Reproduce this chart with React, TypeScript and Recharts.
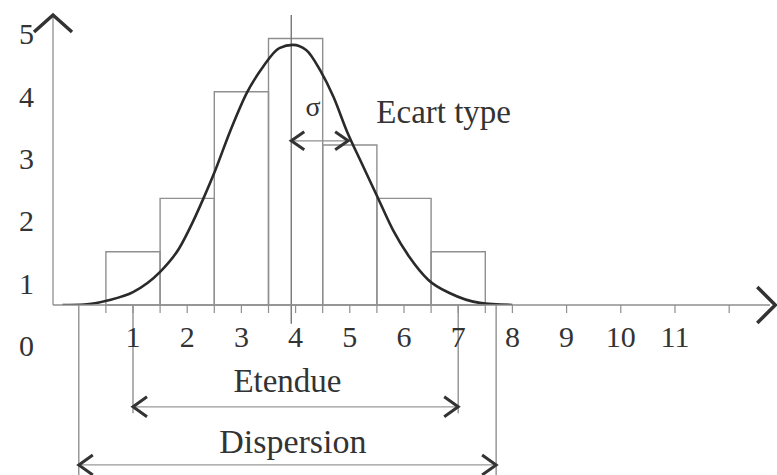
import React from "react";
import {
  ComposedChart,
  Line,
  XAxis,
  YAxis,
  ReferenceArea,
  ReferenceLine,
  ReferenceDot,
} from "recharts";

// ---- data ----
const CURVE_X = [-0.3, 0.1, 0.55, 1.0, 1.5, 1.85, 2.1, 2.3, 2.5, 2.8, 3.1, 3.4, 3.7, 3.95, 4.2, 4.45, 4.7, 4.95, 5.2, 5.5, 5.8, 6.1, 6.45, 6.85, 7.4, 8.0];
const CURVE_Y = [0, 0.01, 0.09, 0.24, 0.62, 1.06, 1.55, 2.0, 2.48, 3.28, 3.98, 4.47, 4.82, 4.88, 4.78, 4.41, 3.9, 3.25, 2.7, 2.05, 1.4, 0.9, 0.47, 0.22, 0.04, 0];

const BIN_LOW = [0.5, 1.5, 2.5, 3.5, 4.5, 5.5, 6.5];
const BIN_HIGH = [1.5, 2.5, 3.5, 4.5, 5.5, 6.5, 7.5];
const BIN_COUNT = [1, 2, 4, 5, 3, 2, 1];

const X_TICKS = [0.5, 1, 1.5, 2, 2.5, 3, 3.5, 4, 4.5, 5, 5.5, 6, 6.5, 7, 7.5, 8, 9, 10, 11, 12];
const X_LABELS = [1, 2, 3, 4, 5, 6, 7, 8, 9, 10, 11];
const Y_TICKS = [1, 2, 3, 4];
const Y_LABELS = [0, 1, 2, 3, 4, 5];

const MEAN = 3.92;
const SIGMA_END = 4.97;
const SIGMA_Y = 3.08;
const ETENDUE = [1, 7];
const DISPERSION = [0, 7.7];

// axis ranges
const X_MIN = -0.476;
const X_MAX = 12.753;
const Y_MAX = 5.44;
const LABEL_DOMAIN = [0.65, 5.3];

// annotation anchor levels (data units)
const ETENDUE_Y = -1.91;
const ETENDUE_LINE_BOTTOM = -2.03;
const ETENDUE_TEXT = { x: 3.85, y: -1.63 };
const DISPERSION_Y = -3.0;
const DISPERSION_LINE_BOTTOM = -3.2;
const DISPERSION_TEXT = { x: 3.95, y: -2.78 };
const SIGMA_TEXT = { x: 4.32, y: 3.55 };
const ECART_TEXT = { x: 5.49, y: 3.42 };
const MEAN_LINE_BOTTOM = -0.35;
const X_ARROW_X = 12.85;

const data = CURVE_X.map((x, i) => ({ x, y: CURVE_Y[i] }));

const FONT = '"Liberation Serif", "DejaVu Serif", serif';
const INK = "#333";
const GRID = "#8f8f8f";
const MAIN = "a";
const LBL = "b";

const chevron = (dir: string, len = 13, half = 9, w = 2.8) => (p: any) => {
  const { cx, cy } = p;
  let d = "";
  if (dir === "left") d = `M${cx + len},${cy - half} L${cx},${cy} L${cx + len},${cy + half}`;
  if (dir === "right") d = `M${cx - len},${cy - half} L${cx},${cy} L${cx - len},${cy + half}`;
  if (dir === "up") d = `M${cx - half},${cy + len} L${cx},${cy} L${cx + half},${cy + len}`;
  return <path d={d} fill="none" stroke={INK} strokeWidth={w} strokeLinejoin="miter" />;
};

const textShape = (label: string, size: number, anchor: string = "middle") => (p: any) => (
  <text
    x={p.cx}
    y={p.cy}
    textAnchor={anchor as any}
    fontFamily={FONT}
    fontSize={size}
    fill={INK}
  >
    {label}
  </text>
);

export default function App() {
  return (
    <div style={{ position: "absolute", left: 0, top: 0, background: "#fff" }}>
      <ComposedChart
        width={777}
        height={475}
        data={data}
        margin={{ top: 15, right: 7, left: 0, bottom: 140 }}
      >
        <XAxis
          dataKey="x"
          type="number"
          domain={[X_MIN, X_MAX]}
          allowDataOverflow
          ticks={X_TICKS}
          interval={0}
          tickFormatter={(v: number) => (X_LABELS.includes(v) ? String(v) : "")}
          height={30}
          tickSize={8}
          tickMargin={13}
          axisLine={{ stroke: GRID, strokeWidth: 1.3 }}
          tickLine={{ stroke: GRID, strokeWidth: 1.2 }}
          tick={{ fill: INK, fontSize: 30, fontFamily: FONT }}
        />
        <YAxis
          yAxisId={MAIN}
          type="number"
          domain={[0, Y_MAX]}
          allowDataOverflow
          ticks={Y_TICKS}
          width={8}
          tickSize={8}
          tick={false}
          axisLine={{ stroke: GRID, strokeWidth: 1.3 }}
          tickLine={{ stroke: GRID, strokeWidth: 1.2 }}
        />
        <YAxis
          yAxisId={LBL}
          type="number"
          domain={LABEL_DOMAIN}
          allowDataOverflow
          ticks={Y_LABELS}
          interval={0}
          width={45}
          tickSize={0}
          tickMargin={11}
          axisLine={false}
          tickLine={false}
          tick={{ fill: INK, fontSize: 30, fontFamily: FONT }}
        />

        {BIN_LOW.map((lo, i) => (
          <ReferenceArea
            key={`bin-${i}`}
            yAxisId={MAIN}
            x1={lo}
            x2={BIN_HIGH[i]}
            y1={0}
            y2={BIN_COUNT[i]}
            fill="none"
            fillOpacity={0}
            stroke={GRID}
            strokeWidth={1.4}
            ifOverflow="visible"
          />
        ))}

        {/* mean line */}
        <ReferenceLine
          yAxisId={MAIN}
          segment={[{ x: MEAN, y: Y_MAX }, { x: MEAN, y: MEAN_LINE_BOTTOM }]}
          stroke="#777"
          strokeWidth={1.4}
          ifOverflow="visible"
        />

        {/* sigma arrow */}
        <ReferenceLine
          yAxisId={MAIN}
          segment={[{ x: MEAN, y: SIGMA_Y }, { x: SIGMA_END, y: SIGMA_Y }]}
          stroke={GRID}
          strokeWidth={1.3}
          ifOverflow="visible"
        />
        <ReferenceDot yAxisId={MAIN} x={MEAN} y={SIGMA_Y} ifOverflow="visible" shape={chevron("left", 13, 9, 3)} />
        <ReferenceDot yAxisId={MAIN} x={SIGMA_END} y={SIGMA_Y} ifOverflow="visible" shape={chevron("right", 13, 9, 3)} />
        <ReferenceDot yAxisId={MAIN} x={SIGMA_TEXT.x} y={SIGMA_TEXT.y} ifOverflow="visible" shape={textShape("σ", 28)} />
        <ReferenceDot yAxisId={MAIN} x={ECART_TEXT.x} y={ECART_TEXT.y} ifOverflow="visible" shape={textShape("Ecart type", 33, "start")} />

        {/* Etendue */}
        {ETENDUE.map((v, i) => (
          <ReferenceLine
            key={`et-${i}`}
            yAxisId={MAIN}
            segment={[{ x: v, y: 0 }, { x: v, y: ETENDUE_LINE_BOTTOM }]}
            stroke="#888"
            strokeWidth={1.3}
            ifOverflow="visible"
          />
        ))}
        <ReferenceLine
          yAxisId={MAIN}
          segment={[{ x: ETENDUE[0], y: ETENDUE_Y }, { x: ETENDUE[1], y: ETENDUE_Y }]}
          stroke="#999"
          strokeWidth={1.3}
          ifOverflow="visible"
        />
        <ReferenceDot yAxisId={MAIN} x={ETENDUE[0]} y={ETENDUE_Y} ifOverflow="visible" shape={chevron("left", 14, 10, 3)} />
        <ReferenceDot yAxisId={MAIN} x={ETENDUE[1]} y={ETENDUE_Y} ifOverflow="visible" shape={chevron("right", 14, 10, 3)} />
        <ReferenceDot yAxisId={MAIN} x={ETENDUE_TEXT.x} y={ETENDUE_TEXT.y} ifOverflow="visible" shape={textShape("Etendue", 33)} />

        {/* Dispersion */}
        {DISPERSION.map((v, i) => (
          <ReferenceLine
            key={`di-${i}`}
            yAxisId={MAIN}
            segment={[{ x: v, y: 0 }, { x: v, y: DISPERSION_LINE_BOTTOM }]}
            stroke="#888"
            strokeWidth={1.3}
            ifOverflow="visible"
          />
        ))}
        <ReferenceLine
          yAxisId={MAIN}
          segment={[{ x: DISPERSION[0], y: DISPERSION_Y }, { x: DISPERSION[1], y: DISPERSION_Y }]}
          stroke="#999"
          strokeWidth={1.3}
          ifOverflow="visible"
        />
        <ReferenceDot yAxisId={MAIN} x={DISPERSION[0]} y={DISPERSION_Y} ifOverflow="visible" shape={chevron("left", 14, 10, 3)} />
        <ReferenceDot yAxisId={MAIN} x={DISPERSION[1]} y={DISPERSION_Y} ifOverflow="visible" shape={chevron("right", 14, 10, 3)} />
        <ReferenceDot yAxisId={MAIN} x={DISPERSION_TEXT.x} y={DISPERSION_TEXT.y} ifOverflow="visible" shape={textShape("Dispersion", 34)} />

        {/* axis arrow heads */}
        <ReferenceDot yAxisId={MAIN} x={X_MIN} y={Y_MAX} ifOverflow="visible" shape={chevron("up", 17, 19, 3.5)} />
        <ReferenceDot yAxisId={MAIN} x={X_ARROW_X} y={0} ifOverflow="visible" shape={chevron("right", 18, 18, 3.5)} />

        <Line
          yAxisId={MAIN}
          dataKey="y"
          type="monotone"
          stroke="#2a2a2a"
          strokeWidth={2.6}
          dot={false}
          activeDot={false}
          isAnimationActive={false}
        />
      </ComposedChart>
    </div>
  );
}
